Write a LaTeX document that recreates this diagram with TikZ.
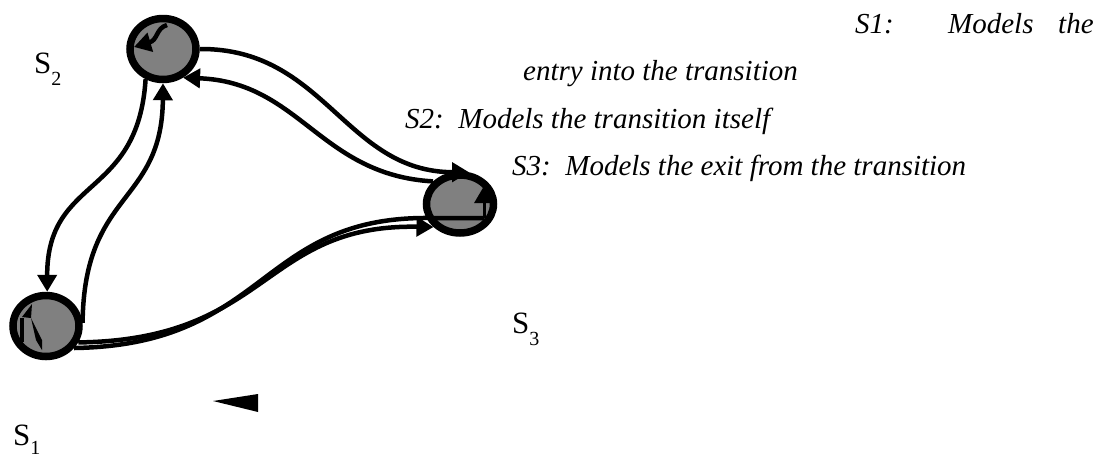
\documentclass[tikz,border=0pt]{standalone}
\usepackage{fontspec}
\setmainfont{Liberation Serif}
\usetikzlibrary{arrows.meta,shapes.geometric}
\newcommand{\labfont}{\fontsize{31}{36}\selectfont}
\newcommand{\subfnt}{\fontsize{20}{24}\selectfont}
\newcommand{\txtfont}{\fontsize{29}{34}\selectfont\itshape}
\begin{document}
\begin{tikzpicture}[x=1pt,y=-1pt,
  statenode/.style={ellipse,draw=black,fill=gray50,line width=7.5pt,inner sep=0pt},
  conn/.style={line width=4.5pt,draw=black},
  arr/.style={conn,-{Triangle[length=17pt,width=19pt]}},
  lab/.style={anchor=base west,inner sep=0pt,font=\labfont},
  txt/.style={anchor=base west,inner sep=0pt,font=\txtfont}]
\definecolor{gray50}{HTML}{808080}
\useasboundingbox (0,0) rectangle (1104,459);
% states
\node[statenode,minimum width=66pt,minimum height=61pt] (s2) at (163,49) {};
\node[statenode,minimum width=66pt,minimum height=61pt] (s1) at (46,326) {};
\node[statenode,minimum width=67pt,minimum height=58pt] (s3) at (460,204) {};
% marks inside the states
\draw[arr] (167,25) .. controls (156,28) and (158,40) .. (134,47);
\draw[conn] (22,342) -- (22,318);
\fill (22,317) -- (32,304) -- (31,318) -- cycle;
\fill (31,318) -- (42,340) -- (42,350) -- (36,340) -- cycle;
% connectors
\draw[arr] (s2.240) .. controls (138,200) and (47,175) .. (s1.88);
\draw[arr] (s1.5) .. controls (84,190) and (162,205) .. (s2.270);
\draw[arr] (s2.0) .. controls (325,48) and (345,172) .. (s3.74);
\draw[arr] (s3.140) .. controls (320,175) and (300,82) .. (s2.305);
\draw[arr] (s1.333) .. controls (270,340) and (262,224) .. (s3.221);
\coordinate (b1) at (430,218);
\coordinate (b2) at (484,218);
\coordinate (b3) at (484,186);
\draw[conn] (s1.322) .. controls (268,345) and (258,216) .. (b1) -- (b2);
\draw[arr,line width=3pt] (b2) -- (b3);
% lone arrowhead
\fill (213,401) -- (258,394) -- (258,412) -- cycle;
% labels
\node[lab] (l2) at (34,73) {S\lower12pt\hbox{\subfnt 2}};
\node[lab] (l3) at (512,333) {S\lower12pt\hbox{\subfnt 3}};
\node[lab] (l1) at (13,445) {S\lower9pt\hbox{\subfnt 1}};
% texts
\node[txt] (t1a) at (855,33) {S1:};
\node[txt] (t1b) at (948,33) {Models};
\node[txt] (t1c) at (1058,33) {the};
\node[txt] (t1d) at (523,80) {entry into the transition};
\node[txt] (t2) at (405,128) {S2:\ \ Models the transition itself};
\node[txt] (t3) at (512,175) {S3:\ \ Models the exit from the transition};
\end{tikzpicture}
\end{document}
